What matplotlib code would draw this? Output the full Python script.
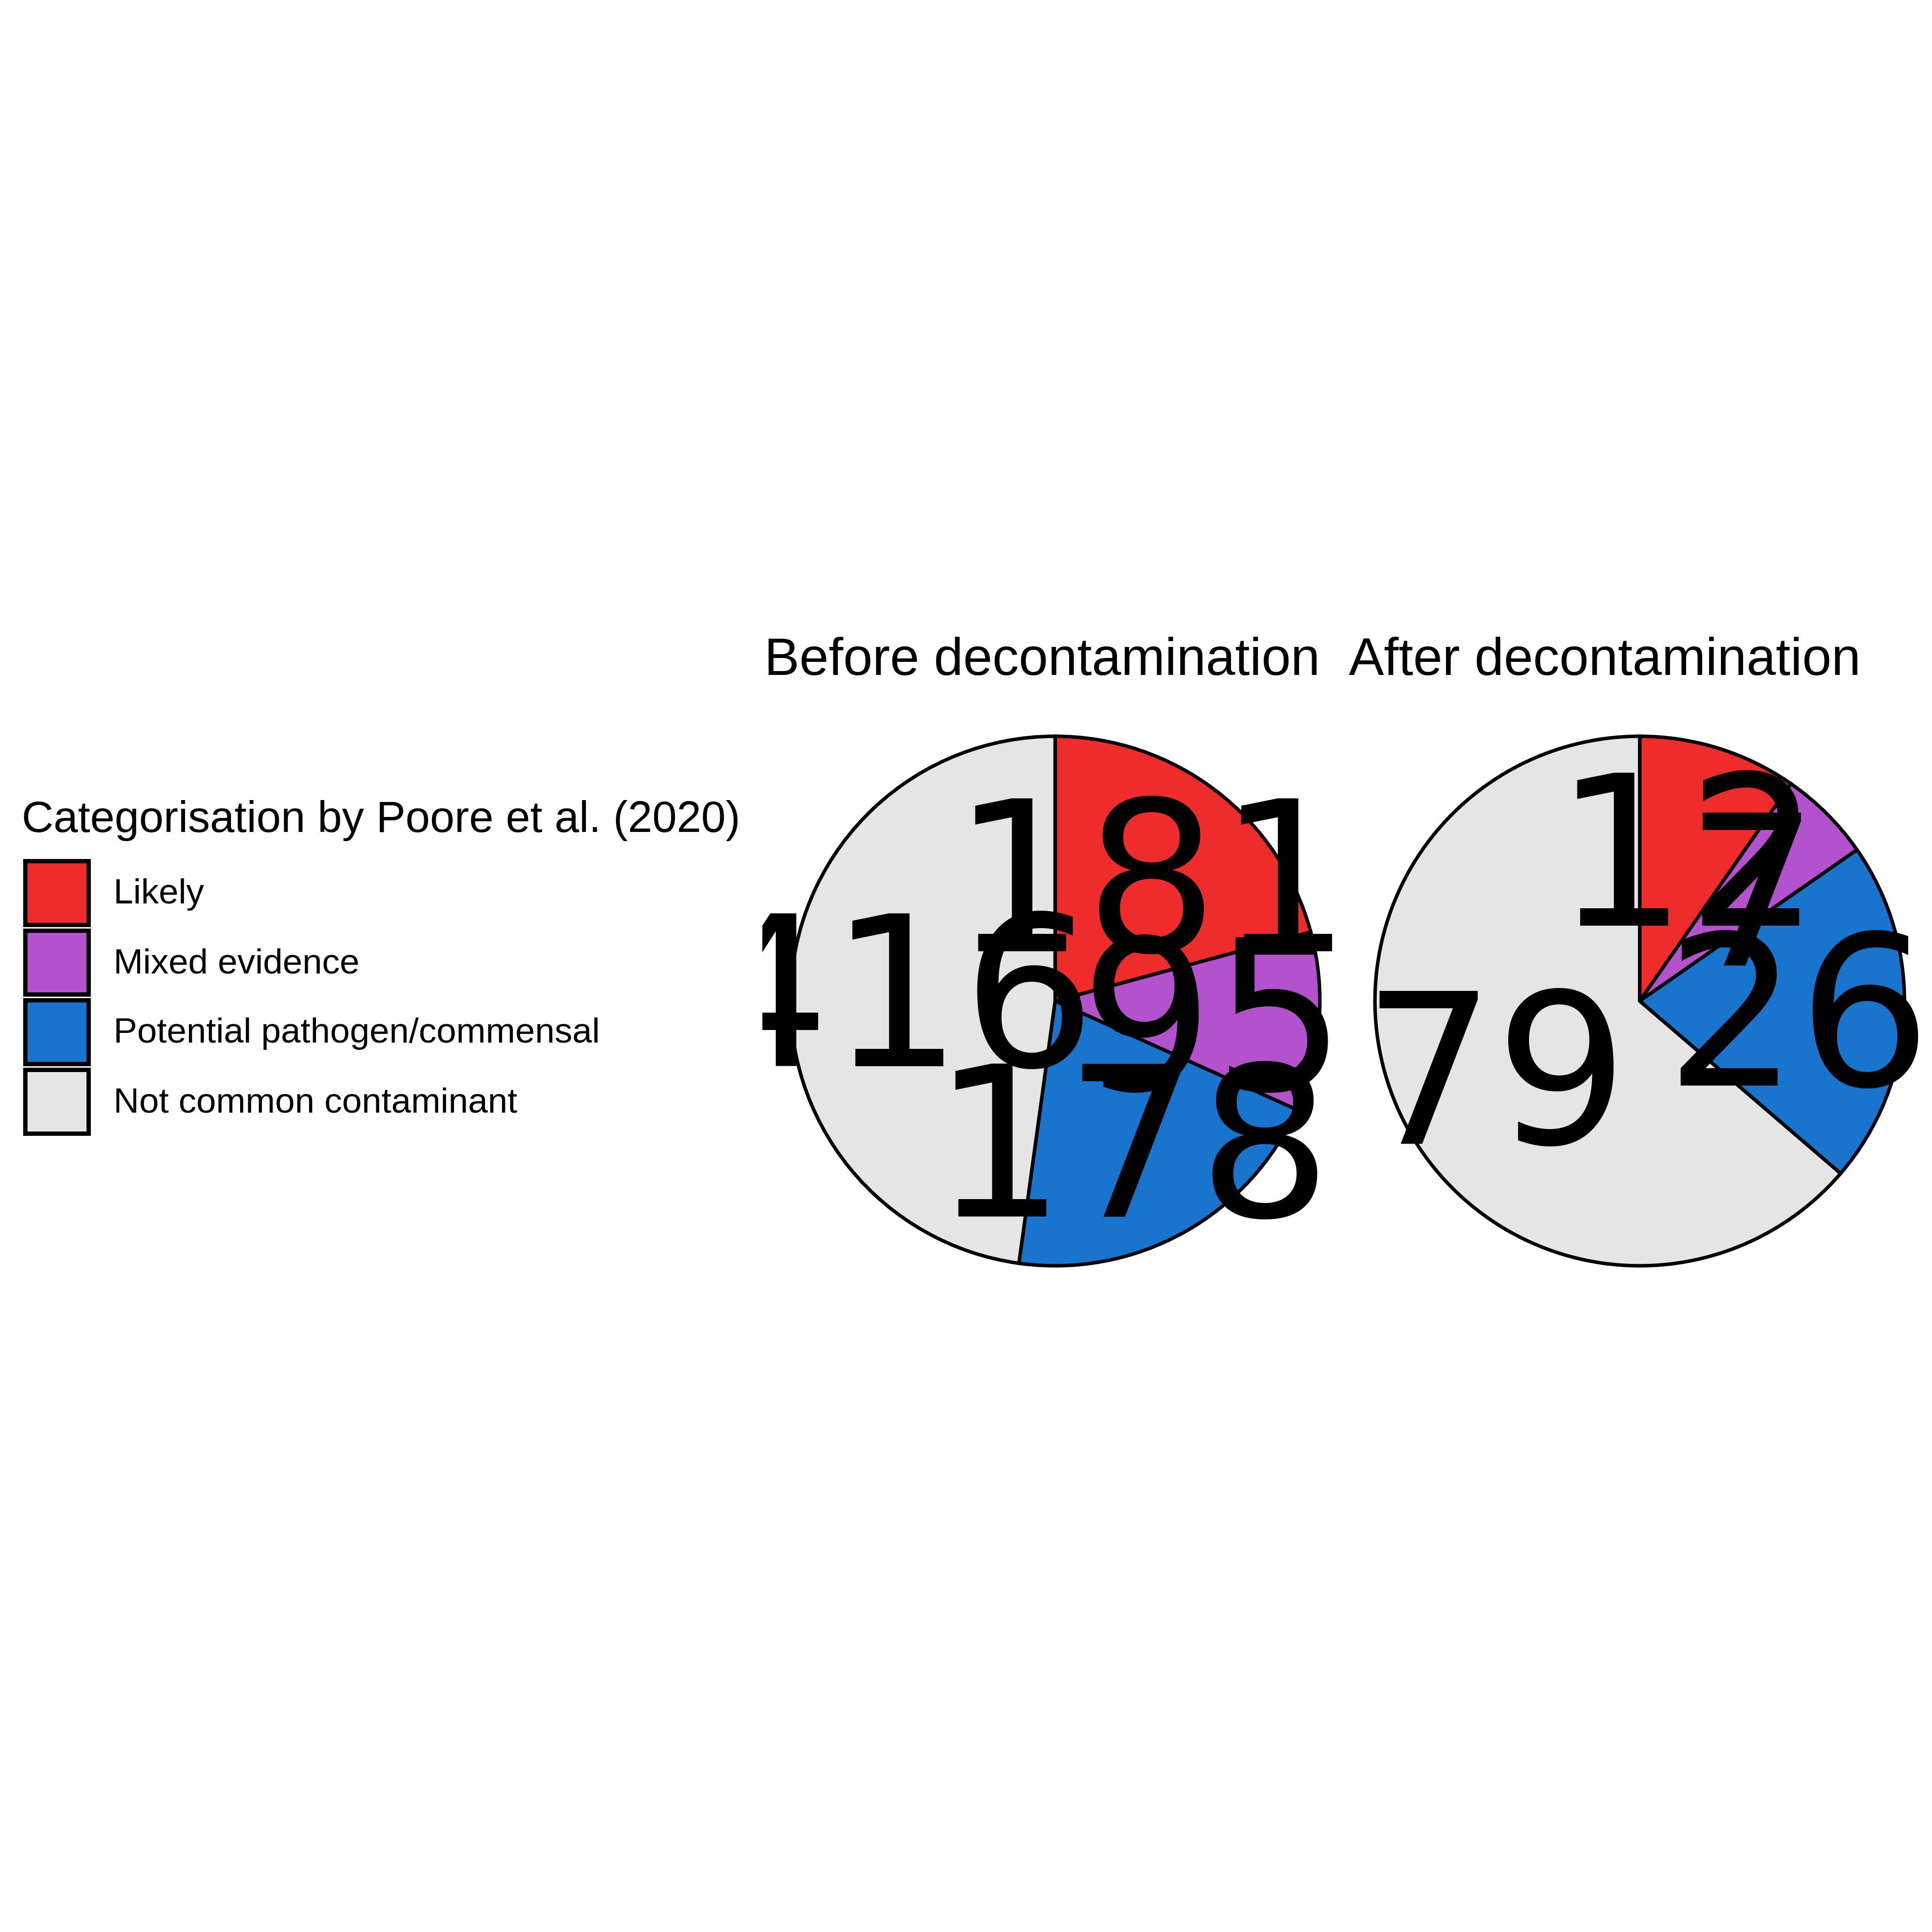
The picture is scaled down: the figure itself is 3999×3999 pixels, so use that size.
import numpy as np
import matplotlib
matplotlib.use("Agg")
import matplotlib.pyplot as plt
from matplotlib.patches import Patch

plt.rcParams['font.family'] = ['Liberation Sans', 'DejaVu Sans']

# data
categories = ["Likely", "Mixed evidence", "Potential pathogen/commensal", "Not common contaminant"]
before_counts = [181, 95, 178, 416]
after_counts = [12, 7, 26, 79]
panel_titles = ["Before decontamination", "After decontamination"]
colours = ["#EE2C2C", "#B452CD", "#1874CD", "#E5E5E5"]
legend_title = "Categorisation by Poore et al. (2020)"

W = 3999  # pixels
dpi = 400
fig = plt.figure(figsize=(W / dpi, W / dpi), dpi=dpi)

R = 548.0        # pie radius in px
half = 606.0     # half panel size in px
centres_x = [2184, 3394]
centre_y = 2072
label_r = 0.6
num_size = 78

for cx, counts, title in zip(centres_x, [before_counts, after_counts], panel_titles):
    left = (cx - half) / W
    bottom = 1 - (centre_y + half) / W
    ax = fig.add_axes([left, bottom, 2 * half / W, 2 * half / W])
    ax.pie(counts, colors=colours, startangle=90, counterclock=False, radius=1,
           wedgeprops=dict(edgecolor="black", linewidth=1.3))
    lim = half / R
    ax.set_xlim(-lim, lim)
    ax.set_ylim(-lim, lim)
    ax.set_aspect("equal")
    ax.axis("off")

    # labels at the middle of each slice, 0.6 of the radius out
    vals = np.array(counts, dtype=float)
    cum = np.cumsum(vals)
    mids = (cum - vals / 2) / vals.sum() * 2 * np.pi
    for v, a in zip(counts, mids):
        ax.annotate(str(v), xy=(label_r * np.sin(a), label_r * np.cos(a)),
                    xytext=(0, -0.729 * num_size / 2), textcoords="offset points",
                    ha="center", va="baseline", fontsize=num_size,
                    family="DejaVu Sans", annotation_clip=False, clip_on=True)

    fig.text((cx - half + 4) / W, 1 - 1397 / W, title, ha="left", va="baseline",
             fontsize=19.6)

# legend
fig.text(45 / W, 1 - 1722 / W, legend_title, ha="left", va="baseline", fontsize=16.4)

handles = [Patch(facecolor=c, edgecolor="black", linewidth=1.62) for c in colours]
fs = 13.2
em = fs * dpi / 72
h = 132 / em
leg = fig.legend(handles, categories, loc="upper left",
                 bbox_to_anchor=(51.5 / W, 1 - 1781.5 / W), frameon=False,
                 fontsize=fs, borderpad=0, borderaxespad=0,
                 handlelength=h, handleheight=(h - 0.245) / 0.65,
                 labelspacing=12 / em, handletextpad=52 / em)

fig.savefig("out.png", dpi=dpi)
